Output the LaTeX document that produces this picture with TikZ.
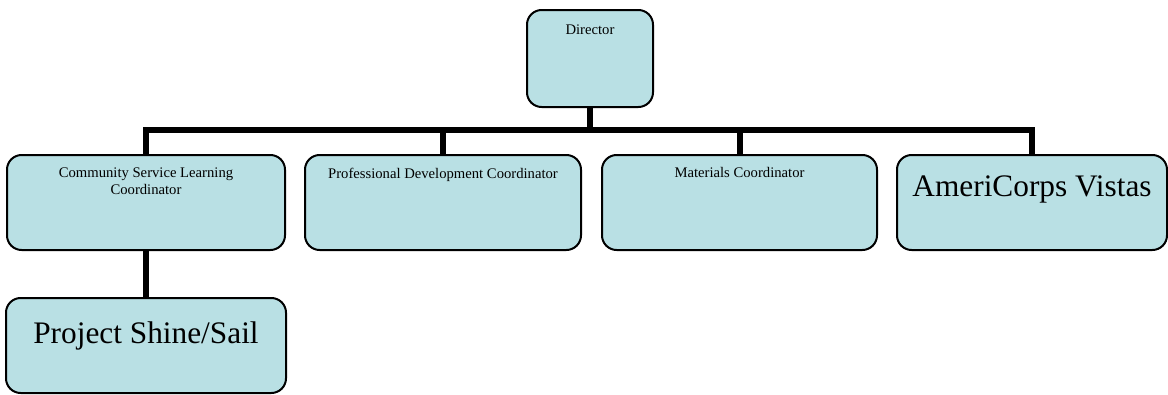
\documentclass[tikz,border=0pt]{standalone}
\usepackage{fontspec}
\setmainfont{Liberation Serif}
\usetikzlibrary{positioning}
\definecolor{unitfill}{RGB}{185,224,228}
% width, height, top gap, text
\newcommand{\unittext}[4]{\vbox to #2{\hsize=#1\parindent=0pt\vskip#3\centering #4\par\vfill}}

\begin{document}
\begin{tikzpicture}[x=0.75pt, y=-0.75pt,
    unit/.style={draw, line width=1.5pt, fill=unitfill, rounded corners=11pt, inner sep=0pt, outer sep=0pt},
    small/.style={font=\fontsize{11}{12.75}\selectfont},
    big/.style={font=\fontsize{23.5}{26}\selectfont},
    link/.style={line width=4.5pt, line join=miter}]
  \useasboundingbox (0,0) rectangle (1168,394);
  \node[unit, small, anchor=north west] (dir) at (527,10) {\unittext{94.5pt}{72.75pt}{11pt}{Director}};
  \node[unit, small, anchor=north west] (csl) at (7,155) {\unittext{208.5pt}{71.25pt}{9.5pt}{Community Service Learning\\Coordinator}};
  \node[unit, small] (pdc) [right=15pt of csl] {\unittext{207pt}{71.25pt}{9.5pt}{Professional Development Coordinator}};
  \node[unit, small] (mat) [right=15.75pt of pdc] {\unittext{206.25pt}{71.25pt}{9.5pt}{Materials Coordinator}};
  \node[unit, big] (vista) [right=15pt of mat] {\unittext{202.5pt}{71.25pt}{15.5pt}{AmeriCorps Vistas}};
  \node[unit, big] (shine) [below=36pt of csl] {\unittext{210pt}{71.25pt}{17.5pt}{Project Shine/Sail}};
  % lines
  \coordinate (bar) at (590,130);
  \draw[link] (dir.south) -- (dir.south |- bar);
  \draw[link] (csl.north) -- (csl.north |- bar) -- (vista.north |- bar) -- (vista.north);
  \draw[link] (pdc.north) -- (pdc.north |- bar);
  \draw[link] (mat.north) -- (mat.north |- bar);
  \draw[link] (csl.south) -- (csl.south |- shine.north);
\end{tikzpicture}
\end{document}
